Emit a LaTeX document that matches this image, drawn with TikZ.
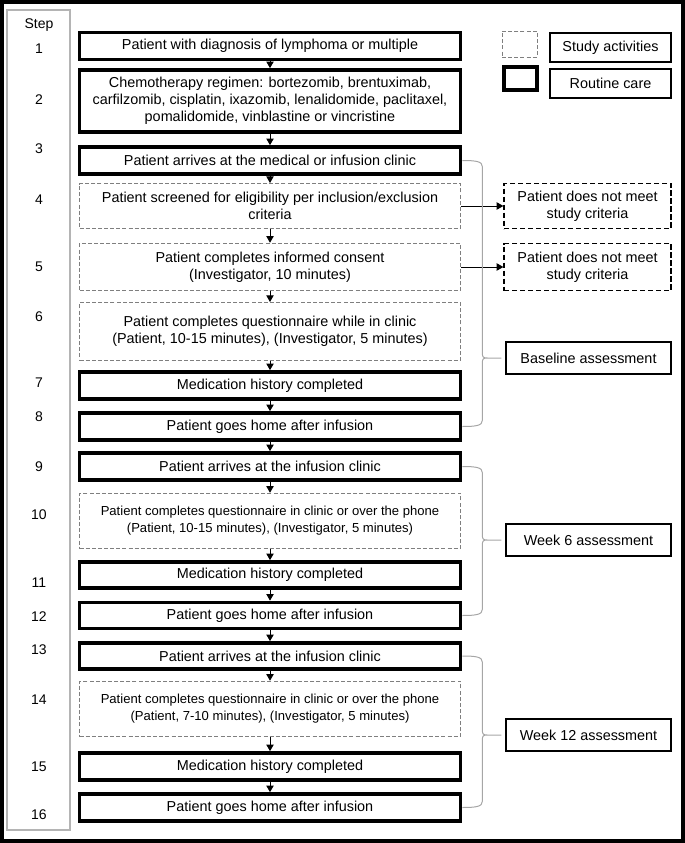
\documentclass[tikz,border=0pt]{standalone}
\usepackage{fontspec}
\setmainfont{Liberation Sans}
\usetikzlibrary{arrows.meta,calc}

\definecolor{studygray}{HTML}{7F7F7F}
\definecolor{bracegray}{HTML}{A6A6A6}
\definecolor{colgray}{HTML}{B4B4B4}

\tikzset{
  routine/.style={draw, line width=2.7pt, minimum width=285.75pt,
    minimum height=20.25pt, inner sep=0pt, align=center,
    font=\fontsize{10.8}{12.8}\selectfont},
  study/.style={routine, draw=studygray, line width=0.75pt,
    dash pattern=on 3pt off 1.6pt},
  smalltext/.style={font=\fontsize{9.8}{12.8}\selectfont},
  nomeet/.style={draw, line width=0.95pt, dash pattern=on 4pt off 2pt,
    minimum width=125.25pt, minimum height=33.75pt, inner sep=0pt,
    align=center, font=\fontsize{10.8}{12.8}\selectfont},
  assess/.style={draw, line width=0.9pt, minimum width=123.75pt,
    minimum height=24pt, inner sep=0pt,
    font=\fontsize{10.8}{12.8}\selectfont},
  legendbox/.style={assess, minimum width=90.75pt, minimum height=21.75pt},
  steplbl/.style={inner sep=0pt, font=\fontsize{10.5}{12}\selectfont},
  flow/.style={line width=0.75pt, -{Triangle[length=5pt,width=5.5pt]}},
  brc/.style={draw=bracegray, line width=0.75pt}
}

\begin{document}
\begin{tikzpicture}[x=0.75pt, y=-0.75pt]
    \useasboundingbox (0,0) rectangle (685,843);

    % step column
    \draw[colgray, line width=1.3pt] (7,10) rectangle (70,830);
    \node[steplbl] (s0) at (39,25) {Step};
    \foreach \n/\y in {1/49, 2/100, 3/149, 4/200, 5/267, 6/317, 7/383,
      8/417, 9/467, 10/515, 11/583, 12/617, 13/650, 14/700, 15/767, 16/815}
      \node[steplbl] (s\n) at (39,\y) {\n};

    % flow boxes
    \node[routine] (b1) at (270,46) {Patient with diagnosis of lymphoma or multiple};
    \node[routine, minimum height=46.5pt] (b2) at (270,101)
      {Chemotherapy regimen: bortezomib, brentuximab,\\
       carfilzomib, cisplatin, ixazomib, lenalidomide, paclitaxel,\\
       pomalidomide, vinblastine or vincristine};
    \node[routine] (b3) at (270,160.5) {Patient arrives at the medical or infusion clinic};
    \node[study, minimum height=33.75pt] (b4) at (270,206)
      {Patient screened for eligibility per inclusion/exclusion\\criteria};
    \node[study, minimum height=35.6pt] (b5) at (270,267)
      {Patient completes informed consent\\(Investigator, 10 minutes)};
    \node[study, minimum height=43.5pt] (b6) at (270,331.5)
      {Patient completes questionnaire while in clinic\\
       (Patient, 10-15 minutes), (Investigator, 5 minutes)};
    \node[routine] (b7) at (270,385.5) {Medication history completed};
    \node[routine] (b8) at (270,426.5) {Patient goes home after infusion};
    \node[routine] (b9) at (270,466.5) {Patient arrives at the infusion clinic};
    \node[study, smalltext, minimum height=41.6pt] (b10) at (270,521)
      {Patient completes questionnaire in clinic or over the phone\\
       (Patient, 10-15 minutes), (Investigator, 5 minutes)};
    \node[routine, minimum height=19.5pt] (b11) at (270,575) {Medication history completed};
    \node[routine, minimum height=19.5pt] (b12) at (270,615.5) {Patient goes home after infusion};
    \node[routine, minimum height=19.5pt] (b13) at (270,656) {Patient arrives at the infusion clinic};
    \node[study, smalltext, minimum height=41.6pt] (b14) at (270,709)
      {Patient completes questionnaire in clinic or over the phone\\
       (Patient, 7-10 minutes), (Investigator, 5 minutes)};
    \node[routine] (b15) at (270,766.5) {Medication history completed};
    \node[routine] (b16) at (270,807.5) {Patient goes home after infusion};

    \foreach \a/\b in {b1/b2, b2/b3, b3/b4, b4/b5, b5/b6, b6/b7, b7/b8,
      b8/b9, b9/b10, b10/b11, b11/b12, b12/b13, b13/b14, b14/b15, b15/b16}
      \draw[flow] (\a.south) -- (\b.north);

    % exclusion
    \node[nomeet] (nm1) at (587.5,206) {Patient does not meet\\study criteria};
    \node[nomeet, minimum height=35.25pt] (nm2) at (587.5,267) {Patient does not meet\\study criteria};
    \draw[flow] (b4.east) -- (nm1.west);
    \draw[flow] (b5.east) -- (nm2.west);

    % legend
    \node[study, minimum width=26.25pt, minimum height=19.5pt] (lgstudy) at (519.5,44) {};
    \node[routine, minimum width=25pt, minimum height=17.25pt] (lgroutine) at (520.5,78.5) {};
    \node[legendbox] (lgstudytxt) at (610.5,47.5) {Study activities};
    \node[legendbox] (lgroutinetxt) at (610.5,83.5) {Routine care};

    % assessments
    \node[assess] (base) at (588.5,358) {Baseline assessment};
    \node[assess] (wk6) at (588.5,540) {Week 6 assessment};
    \node[assess] (wk12) at (588.5,735) {Week 12 assessment};

    \foreach \t/\b/\a in {b3/b8/base, b9/b12/wk6, b13/b16/wk12}
      \draw[brc]
        (\t.east) .. controls +(14,0) and +(0,-5) .. ($(\t.east)+(20,6)$)
        -- ($(\t.east |- \a.west)+(20,-5)$)
        .. controls +(0,4) and +(-4,0) .. ($(\t.east |- \a.west)+(25,0)$)
        -- ($(\a.west)+(-4,0)$)
        (\b.east) .. controls +(14,0) and +(0,5) .. ($(\b.east)+(20,-6)$)
        -- ($(\t.east |- \a.west)+(20,5)$)
        .. controls +(0,-4) and +(-4,0) .. ($(\t.east |- \a.west)+(25,0)$);

    % frame
    \draw[line width=3pt] (2,2) rectangle (683,840.5);
  \end{tikzpicture}
\end{document}
